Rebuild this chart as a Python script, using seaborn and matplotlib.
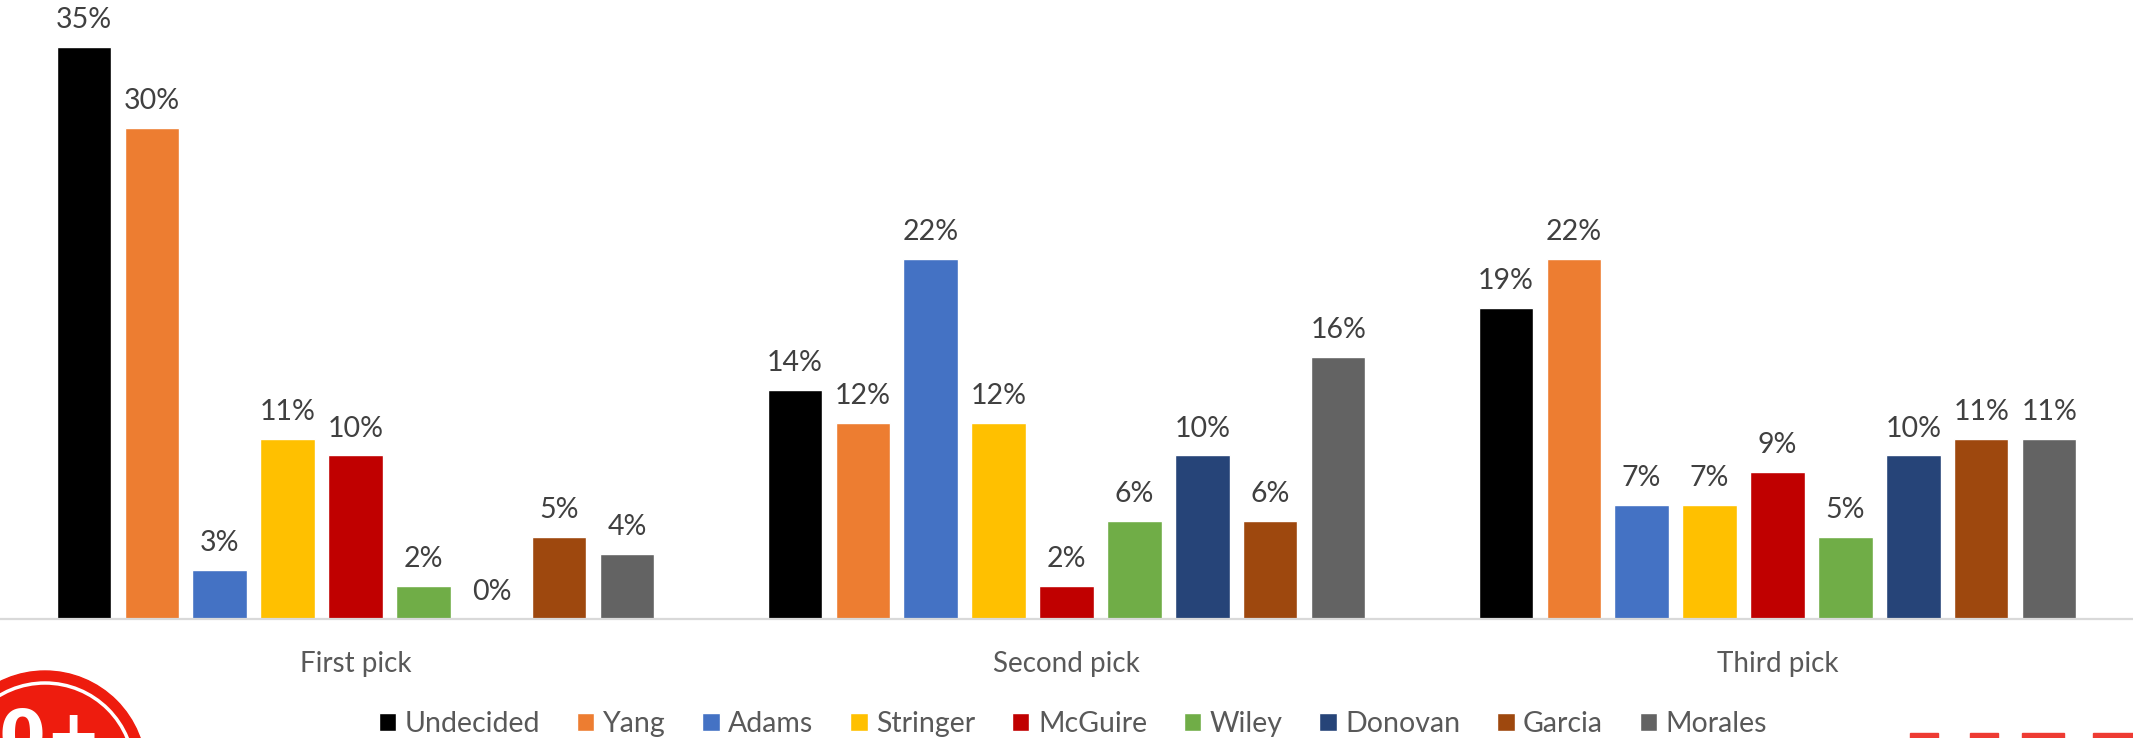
import matplotlib
matplotlib.use("Agg")
import matplotlib.pyplot as plt
import matplotlib.patches as mpatches
import seaborn as sns
import pandas as pd

# ---- data ----
picks = ["First pick", "Second pick", "Third pick"]
candidates = ["Undecided", "Yang", "Adams", "Stringer", "McGuire",
              "Wiley", "Donovan", "Garcia", "Morales"]
first_pick = [35, 30, 3, 11, 10, 2, 0, 5, 4]
second_pick = [14, 12, 22, 12, 2, 6, 10, 6, 16]
third_pick = [19, 22, 7, 7, 9, 5, 10, 11, 11]
colors = ["#000000", "#ED7D31", "#4472C4", "#FFC000", "#C00000",
          "#70AD47", "#264478", "#9E480E", "#636363"]

rows = []
for pick, vals in zip(picks, [first_pick, second_pick, third_pick]):
    for cand, v in zip(candidates, vals):
        rows.append({"pick": pick, "candidate": cand, "value": v})
df = pd.DataFrame(rows)

sns.set_theme(style="white")
plt.rcParams["font.family"] = ["Lato", "DejaVu Sans"]

W, H = 2133, 738
fig = plt.figure(figsize=(W / 100, H / 100), dpi=100)
ax = fig.add_axes([0, 1 - 619 / H, 1, 619 / H])

sns.barplot(data=df, x="pick", y="value", hue="candidate",
            order=picks, hue_order=candidates,
            palette=dict(zip(candidates, colors)),
            width=0.86, gap=0.2, saturation=1, errorbar=None,
            ax=ax, legend=True)

ax.set_xlim(-0.5, 2.5)
ax.set_ylim(0, 37.85)
ax.set_xlabel("")
ax.set_ylabel("")
ax.set_yticks([])
for s in ["left", "right", "top"]:
    ax.spines[s].set_visible(False)
ax.spines["bottom"].set_color("#D9D9D9")
ax.spines["bottom"].set_linewidth(1.6)
ax.tick_params(axis="x", length=0, pad=23, labelsize=20, labelcolor="#595959")

for cont in ax.containers:
    ax.bar_label(cont, labels=[f"{int(round(v))}%" for v in cont.datavalues],
                 padding=10, fontsize=20.5, color="#404040")

handles, labels = ax.get_legend_handles_labels()
ax.get_legend().remove()
leg = fig.legend(handles, labels, ncol=9, loc="center",
                 bbox_to_anchor=(0.503, 1 - 724 / H), frameon=False,
                 fontsize=20.5, handlelength=0.62, handleheight=0.62,
                 handletextpad=0.3, columnspacing=1.28, borderaxespad=0)
for t in leg.get_texts():
    t.set_color("#595959")

# ---- decorative logo fragments (partially cropped in the reference) ----
ov = fig.add_axes([0, 0, 1, 1], zorder=5)
ov.set_xlim(0, W)
ov.set_ylim(H, 0)
ov.axis("off")
ov.patch.set_alpha(0)
ov.add_patch(mpatches.Circle((45, 772), 101, color="#EE1C0E"))
ov.add_patch(mpatches.Circle((45, 772), 89, fill=False, ec="white", lw=2.5))
ov.text(102, 706, "50+", color="white", fontsize=48, fontweight="bold",
        ha="right", va="top", family="DejaVu Sans")
for x0, w0 in [(1910, 28), (1970, 28), (2022, 42), (2093, 40)]:
    ov.add_patch(mpatches.Rectangle((x0, 733), w0, 6, color="#EE3B33"))

fig.savefig("out.png", dpi=100)
